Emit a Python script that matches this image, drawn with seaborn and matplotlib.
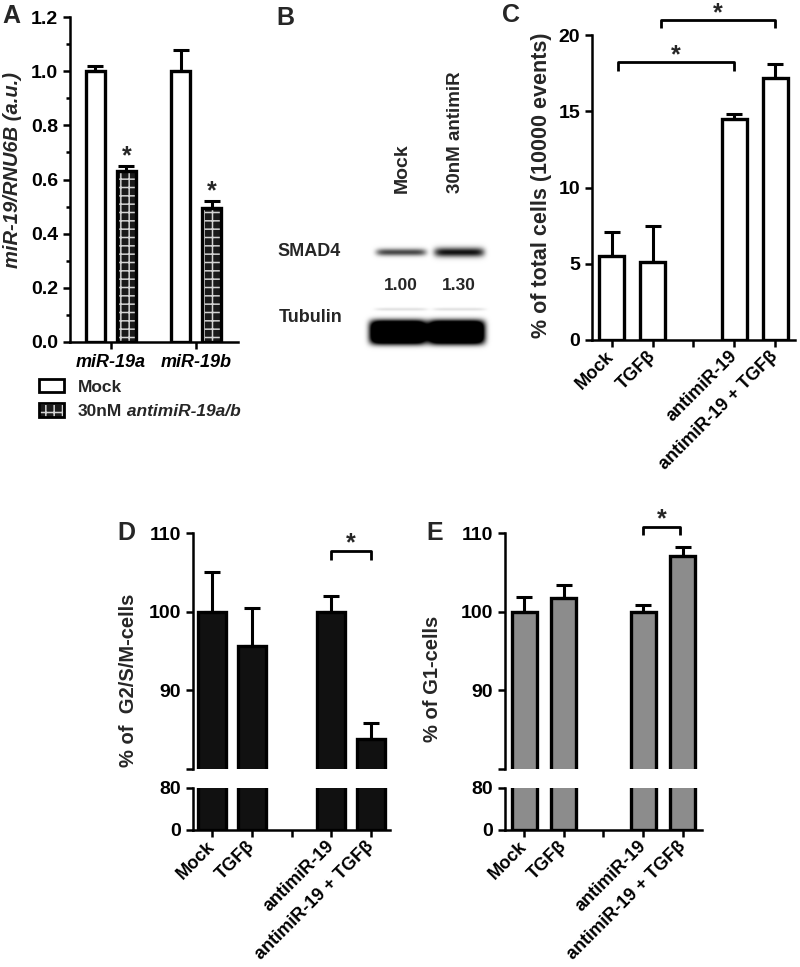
import numpy as np
import pandas as pd
import matplotlib

matplotlib.use("Agg")

import matplotlib.pyplot as plt
from matplotlib.patches import Patch, Rectangle
from matplotlib.ticker import AutoMinorLocator
import seaborn as sns

# ---------------- data ----------------
# panel A: qPCR
a_targets = ["miR-19a", "miR-19b"]
a_groups = ["Mock", "30nM antimiR-19a/b"]
a_mock = [1.00, 1.00]
a_mock_err = [0.02, 0.08]
a_anti = [0.63, 0.495]
a_anti_err = [0.02, 0.025]

# panel B: western blot
b_lanes = ["Mock", "30nM antimiR"]
b_smad4 = [1.00, 1.30]
b_tubulin = [1.00, 1.00]

# panels C-E
cond_order = ["Mock", "TGFβ", " ", "antimiR-19", "antimiR-19 + TGFβ"]
cond = ["Mock", "TGFβ", "antimiR-19", "antimiR-19 + TGFβ"]
c_vals = [5.5, 5.1, 14.5, 17.2]
c_err = [1.6, 2.4, 0.35, 0.9]
d_vals = [100.0, 95.6, 100.0, 83.8]
d_err = [5.0, 4.9, 2.0, 2.0]
e_vals = [100.0, 101.7, 100.0, 107.1]
e_err = [1.9, 1.7, 0.8, 1.1]

W, H = 800, 967
TICK_FS = 14
XLAB_FS = 13
HATCH = "--||"

sns.set_style("ticks")
plt.rcParams["font.family"] = ["Liberation Sans", "DejaVu Sans"]
plt.rcParams["font.weight"] = "bold"
plt.rcParams["axes.labelweight"] = "bold"
plt.rcParams["axes.linewidth"] = 1.8
plt.rcParams["axes.edgecolor"] = "black"
for ax_ in ("xtick", "ytick"):
    plt.rcParams[f"{ax_}.major.width"] = 1.8
    plt.rcParams[f"{ax_}.minor.width"] = 1.8
    plt.rcParams[f"{ax_}.major.size"] = 5
    plt.rcParams[f"{ax_}.minor.size"] = 3
    plt.rcParams[f"{ax_}.labelsize"] = TICK_FS
    plt.rcParams[f"{ax_}.color"] = "black"
plt.rcParams["xtick.labelsize"] = XLAB_FS
plt.rcParams["hatch.linewidth"] = 1.1

fig = plt.figure(figsize=(W / 100, H / 100), dpi=100)


def px_axes(left, top, right, bottom):
    return fig.add_axes([left / W, 1 - bottom / H, (right - left) / W, (bottom - top) / H])


def fig_text(x, y, s, **kw):
    return fig.text(x / W, 1 - y / H, s, **kw)


def up_errors(ax, xs, vals, errs):
    ax.errorbar(xs, vals, yerr=[np.zeros(len(errs)), errs], fmt="none",
                ecolor="black", elinewidth=2.2, capsize=6, capthick=2.2, zorder=3)


def star_bracket(ax, x1, x2, y, drop, star_gap):
    ax.plot([x1, x1, x2, x2], [y - drop, y, y, y - drop], color="black", lw=2,
            clip_on=False, solid_capstyle="butt")
    ax.text((x1 + x2) / 2, y + star_gap, "*", ha="center", va="center",
            fontsize=18, clip_on=False)


def cond_bars(ax, vals, color, width, errs=None):
    df = pd.DataFrame({"cond": cond, "val": vals})
    sns.barplot(data=df, x="cond", y="val", order=cond_order, color=color,
                width=width, saturation=1, edgecolor="black", linewidth=2.4,
                errorbar=None, ax=ax)
    if errs is not None:
        xs = [cond_order.index(c) for c in cond]
        up_errors(ax, xs, vals, errs)
    ax.set_xlim(-0.48, 4.48)
    ax.set_xlabel("")
    ax.set_ylabel("")
    sns.despine(ax=ax)


def rotate_labels(ax):
    ax.set_xticks(range(len(cond_order)))
    ax.set_xticklabels([c.strip() for c in cond_order], rotation=45, ha="right",
                       va="center", rotation_mode="anchor")
    ax.tick_params(axis="x", pad=5)


# ---------------- panel A ----------------
axA = px_axes(70, 17, 238, 342)
dfA = pd.DataFrame({
    "target": a_targets * 2,
    "group": [a_groups[0]] * 2 + [a_groups[1]] * 2,
    "val": a_mock + a_anti,
})
sns.barplot(data=dfA, x="target", y="val", hue="group", order=a_targets,
            hue_order=a_groups, palette=["white", "#1a1a1a"], width=0.73, gap=0.39,
            saturation=1, edgecolor="black", linewidth=2.4, errorbar=None,
            legend=False, ax=axA)
for cont, errs in zip(axA.containers, [a_mock_err, a_anti_err]):
    xs = [b.get_x() + b.get_width() / 2 for b in cont]
    vals = [b.get_height() for b in cont]
    up_errors(axA, xs, vals, errs)
for bar in axA.containers[1]:
    bar.set_hatch(HATCH)
    bar.set_edgecolor("#d4d4d4")
    bar.set_linewidth(0)
    axA.add_patch(Rectangle(bar.get_xy(), bar.get_width(), bar.get_height(),
                            fill=False, ec="black", lw=2.4, zorder=bar.get_zorder() + 0.1))
for b, e in zip(axA.containers[1], a_anti_err):
    axA.text(b.get_x() + b.get_width() / 2, b.get_height() + e + 0.035, "*",
             ha="center", va="center", fontsize=18)
axA.set_ylim(0, 1.2)
axA.set_yticks(np.arange(0, 1.21, 0.2))
axA.set_yticklabels([f"{v:.1f}" for v in np.arange(0, 1.21, 0.2)])
axA.yaxis.set_minor_locator(AutoMinorLocator(2))
axA.set_xlim(-0.48, 1.49)
axA.set_xlabel("")
axA.set_ylabel("")
for lbl in axA.get_xticklabels():
    lbl.set_style("italic")
sns.despine(ax=axA)
fig_text(13, 170, "miR-19/RNU6B (a.u.)", rotation=90, style="italic",
         fontsize=14.5, ha="center", va="center")

leg = fig.legend(
    handles=[Patch(fc="white", ec="black", lw=2),
             (Patch(fc="#1a1a1a", ec="#d4d4d4", hatch=HATCH, lw=0),
              Patch(fill=False, ec="black", lw=2))],
    labels=["Mock", "30nM"], loc="upper left",
    bbox_to_anchor=(39 / W, 1 - 379 / H), frameon=False, fontsize=12.5,
    handlelength=1.45, handleheight=0.8, handletextpad=0.8, labelspacing=0.5,
    borderpad=0, borderaxespad=0)

# ---------------- panel B ----------------
fig_text(402, 193, b_lanes[0], rotation=90, ha="center", va="bottom", fontsize=14)
fig_text(455, 193, b_lanes[1], rotation=90, ha="center", va="bottom", fontsize=13.5)
fig_text(277, 252, "SMAD4", ha="left", va="center", fontsize=13)
fig_text(279, 317, "Tubulin", ha="left", va="center", fontsize=13)

axB = px_axes(355, 232, 495, 358)
X, Y = np.meshgrid(np.arange(355, 495, 0.5), np.arange(232, 358, 0.5))
lane_x = [401, 459]
dark = np.zeros_like(X)
for cx, lvl in zip(lane_x, b_smad4):
    dark += 0.72 * lvl * np.exp(-((X - cx) / 25) ** 8) * np.exp(-((Y - 252) / (3.6 * lvl)) ** 2)
for cx, lvl in zip(lane_x, b_tubulin):
    dark += 1.9 * lvl * np.exp(-((X - cx + 3) / 28.5) ** 8) * np.exp(-((Y - 332) / 12) ** 4)
    dark += 0.12 * lvl * np.exp(-((X - cx) / 26) ** 8) * np.exp(-((Y - 309) / 1.5) ** 2)
axB.imshow(np.clip(1 - dark, 0, 1), cmap="gray", vmin=0, vmax=1,
           extent=(355, 495, 358, 232), aspect="auto", interpolation="bilinear")
axB.axis("off")
for cx, lvl in zip(lane_x, b_smad4):
    fig_text(cx, 285, f"{lvl:.2f}", ha="center", va="center", fontsize=12.5)

# ---------------- panel C ----------------
axC = px_axes(592, 35, 795, 340)
cond_bars(axC, c_vals, "white", 0.62, c_err)
axC.set_ylim(0, 20)
axC.set_yticks([0, 5, 10, 15, 20])
rotate_labels(axC)
star_bracket(axC, 0.15, 3.0, 18.2, 0.55, 0.45)
star_bracket(axC, 1.2, 4.0, 21.0, 0.55, 0.45)
fig_text(542, 185, "% of total cells (10000 events)", rotation=90, fontsize=15.5,
         ha="center", va="center")

# ---------------- panels D / E ----------------
def broken_panel(left, right, vals, errs, color, width, pair, br_y):
    up = px_axes(left, 533, right, 769)
    lo = px_axes(left, 788, right, 830)
    cond_bars(up, vals, color, width, errs)
    cond_bars(lo, vals, color, width)
    up.set_ylim(80, 110)
    up.set_yticks([80, 90, 100, 110])
    up.set_yticklabels(["", "90", "100", "110"])
    up.spines["bottom"].set_visible(False)
    up.tick_params(axis="x", bottom=False, labelbottom=False)
    lo.set_ylim(0, 80)
    lo.set_yticks([0, 80])
    rotate_labels(lo)
    star_bracket(up, pair[0], pair[1], br_y, 1.1, 1.0)
    return up, lo


broken_panel(193, 390, d_vals, d_err, "#111111", 0.70, (3.0, 4.0), 107.7)
broken_panel(505, 702, e_vals, e_err, "#8c8c8c", 0.63, (3.0, 3.92), 110.8)
fig_text(128, 680, "% of  G2/S/M-cells", rotation=90, fontsize=14.5,
         ha="center", va="center")
fig_text(433, 679, "% of G1-cells", rotation=90, fontsize=14.5,
         ha="center", va="center")

# panel letters
for letter, x, y in [("A", 2, 4), ("B", 276, 6), ("C", 502, 3), ("D", 117, 521), ("E", 426, 521)]:
    fig_text(x, y, letter, ha="left", va="top", fontsize=18)

# italic tail of second legend entry
fig.canvas.draw()
bb = leg.get_texts()[1].get_window_extent()
fig.text(bb.x1 / fig.bbox.width, bb.y0 / fig.bbox.height, " antimiR-19a/b",
         style="italic", fontsize=12.5, ha="left", va="bottom")

fig.savefig("out.png", dpi=100)
